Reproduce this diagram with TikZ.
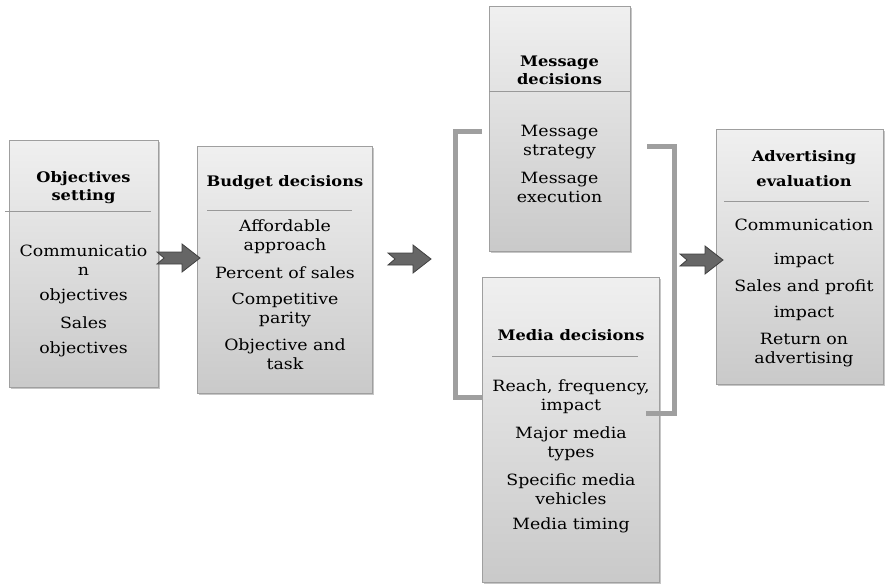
\documentclass[tikz,border=0pt]{standalone}
\usepackage{fontspec}
\setmainfont{DejaVu Serif}[FakeStretch=1.12]
\usetikzlibrary{shadows}
\tikzset{
  panel/.style={draw=gray!75, top color=gray!12, bottom color=gray!42, inner sep=0pt,
    drop shadow={shadow xshift=1.5pt, shadow yshift=-1.5pt, opacity=.45}},
  head/.style={font=\fontsize{14.5}{18}\selectfont\bfseries, align=center},
  item/.style={font=\fontsize{15.5}{19}\selectfont, align=center},
  rule/.style={draw=gray!80, line width=.6pt},
  bracket/.style={draw=gray!75, line width=5pt},
  chevron/.pic={\draw[fill=black!60, draw=black!75, line width=.8pt]
    (0,-6) -- (25,-6) -- (25,-14) -- (43,0) -- (25,14) -- (25,6) -- (0,6) -- (7,0) -- cycle;}
}
\begin{document}
\begin{tikzpicture}[x=1pt,y=-1pt]
	\useasboundingbox (0,0) rectangle (885,584);
	% boxes
	\node[panel, minimum width=149pt, minimum height=247pt] (obj) at (83.5,263.5) {};
	\node[panel, minimum width=175pt, minimum height=247pt] (bud) at (284.5,269.5) {};
	\node[panel, minimum width=141pt, minimum height=245pt] (msg) at (559.5,128.5) {};
	\node[panel, minimum width=177pt, minimum height=305pt] (med) at (570.5,429.5) {};
	\node[panel, minimum width=167pt, minimum height=255pt] (adv) at (799.5,256.5) {};
	% objectives
	\node[head] (objT) at (83.5,188) {Objectives\\setting};
	\draw[rule] (5,211) -- (151,211);
	\node[item] (obj1) at (83.5,260.5) {Communicatio\\n};
	\node[item] (obj2) at (83.5,296) {objectives};
	\node[item] (obj3) at (83.5,323) {Sales};
	\node[item] (obj4) at (83.5,349) {objectives};
	% budget
	\node[head] (budT) at (285,183) {Budget decisions};
	\draw[rule] (207,210) -- (352,210);
	\node[item] (bud1) at (285,236.5) {Affordable\\approach};
	\node[item] (bud2) at (285,273) {Percent of sales};
	\node[item] (bud3) at (285,309.5) {Competitive\\parity};
	\node[item] (bud4) at (285,354) {Objective and\\task};
	% message
	\node[head] (msgT) at (559.5,70.5) {Message\\decisions};
	\draw[rule] (489,91) -- (630,91);
	\node[item] (msg1) at (559.5,142.5) {Message\\strategy};
	\node[item] (msg2) at (559.5,187.5) {Message\\execution};
	% media
	\node[head] (medT) at (571,335) {Media decisions};
	\draw[rule] (492,356) -- (638,356);
	\node[item] (med1) at (571,397) {Reach, frequency,\\impact};
	\node[item] (med2) at (571,443.5) {Major media\\types};
	\node[item] (med3) at (571,489.5) {Specific media\\vehicles};
	\node[item] (med4) at (571,525) {Media timing};
	% evaluation
	\node[head, font=\fontsize{14.5}{25}\selectfont\bfseries] (advT) at (804,168.5) {Advertising\\evaluation};
	\draw[rule] (724,201) -- (869,201);
	\node[item] (adv1) at (804,225) {Communication};
	\node[item] (adv2) at (804,260) {impact};
	\node[item] (adv3) at (804,287) {Sales and profit};
	\node[item] (adv4) at (804,313) {impact};
	\node[item] (adv5) at (804,350) {Return on\\advertising};
	% brackets
	\draw[bracket] (482,131) -- (455,131) -- (455,397) -- (med.west |- 0,397);
	\draw[bracket] (647,146) -- (674,146) -- (674,413) -- (646,413);
	% arrows
	\pic at (157,258) {chevron};
	\pic at (388,259) {chevron};
	\pic at (680,260) {chevron};
\end{tikzpicture}
\end{document}
